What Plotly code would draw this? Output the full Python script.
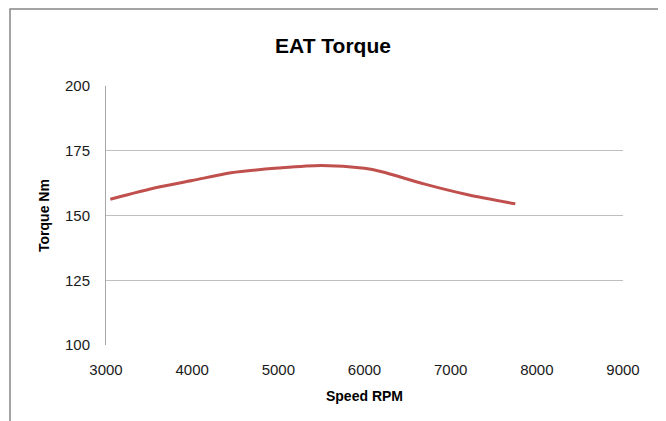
import plotly.graph_objects as go

speed_rpm = [3050, 3600, 4000, 4450, 5000, 5500, 6000, 6200, 6700, 7200, 7750]
torque_nm = [156.3, 160.9, 163.5, 166.5, 168.3, 169.3, 168.2, 166.9, 162.1, 158.0, 154.5]

# page body has an 8px margin, so the figure is laid out 8px up/left
W, H = 666, 421
ML, MR, MT, MB = 98, 51, 78, 84
PW, PH = W - ML - MR, H - MT - MB

FONT = "Liberation Sans, Arial"

fig = go.Figure()
fig.add_trace(go.Scatter(
    x=speed_rpm, y=torque_nm, mode="lines",
    line=dict(color="#C0504D", width=3, shape="spline", smoothing=0.8),
    showlegend=False,
))

# outer chart frame (figure px -> paper coords)
fig.add_shape(
    type="rect", xref="paper", yref="paper",
    x0=(2 - ML) / PW, x1=(651 - ML) / PW,
    y0=(H - MB - 440) / PH, y1=(H - MB - 1) / PH,
    line=dict(color="#868686", width=1.5), fillcolor="rgba(0,0,0,0)",
    layer="below",
)

fig.update_layout(
    width=W, height=H,
    margin=dict(l=ML, r=MR, t=MT, b=MB),
    paper_bgcolor="white", plot_bgcolor="white",
    font=dict(family=FONT, size=15, color="#1a1a1a"),
    title=dict(text="<b>EAT Torque</b>", x=(325 / W), xref="container", xanchor="center",
               y=1 - 38 / H, yref="container", yanchor="middle",
               font=dict(size=21, family=FONT, color="black")),
    xaxis=dict(
        range=[3000, 9000], dtick=1000, tick0=3000,
        showgrid=False, zeroline=False, showline=False,
        ticks="", ticklabelstandoff=14,
        title=dict(text="<b>Speed RPM</b>", standoff=14, font=dict(size=14, color="black")),
    ),
    yaxis=dict(
        range=[100, 200], dtick=25, tick0=100,
        showgrid=True, gridcolor="#BFBFBF", gridwidth=1, zeroline=False,
        showline=True, linecolor="#A6A6A6", linewidth=1,
        ticks="", ticklabelstandoff=12,
        title=dict(text="<b>Torque Nm</b>", standoff=12, font=dict(size=14, color="black")),
    ),
)

fig.write_html("out.html")
